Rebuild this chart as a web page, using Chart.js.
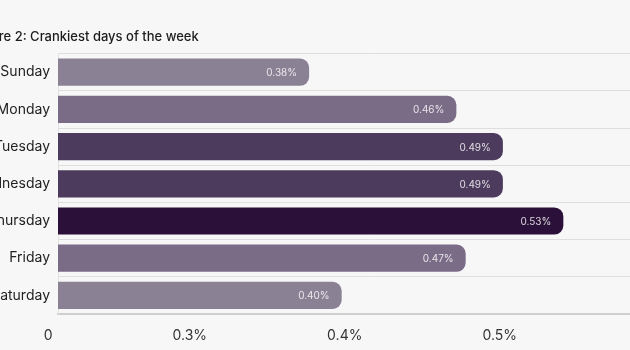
<!DOCTYPE html>
<html>
<head>
<meta charset="utf-8">
<script src="https://cdn.jsdelivr.net/npm/chart.js@4"></script>
<style>
  html, body { margin: 0; padding: 0; background: #f7f7f7; overflow: hidden; }
  #wrap { position: absolute; left: -28px; top: 0; width: 720px; height: 350px; }
</style>
</head>
<body>
<div id="wrap"><canvas id="chart"></canvas></div>
<script>
// days and what the bars show
const days = ['Sunday', 'Monday', 'Tuesday', 'Wednesday', 'Thursday', 'Friday', 'Saturday'];
const barValues = [0.377, 0.472, 0.502, 0.502, 0.541, 0.478, 0.398];   // bar lengths (percent)
const valueLabels = ['0.38%', '0.46%', '0.49%', '0.49%', '0.53%', '0.47%', '0.40%'];
const barColors = ['#8b8195', '#7a6b86', '#4c3b5d', '#4c3b5d', '#2b1139', '#7a6b86', '#8b8195'];
const tickValues = [0.215, 0.3, 0.4, 0.5];
const tickLabels = ['0     ', '0.3%', '0.4%', '0.5%'];   // axis starts above zero, first tick shown as 0

const fontFamily = 'Inter, "Noto Sans", sans-serif';

// prints the value inside the end of each bar
const valuePlugin = {
    id: 'valueLabels',
    afterDatasetsDraw(chart) {
        const ctx = chart.ctx;
        const meta = chart.getDatasetMeta(0);
        ctx.save();
        ctx.font = '10px ' + fontFamily;
        ctx.fillStyle = 'rgba(255,255,255,0.82)';
        ctx.textAlign = 'right';
        ctx.textBaseline = 'middle';
        meta.data.forEach(function(bar, i) {
            ctx.fillText(valueLabels[i], bar.x - 12, bar.y + 1);
        });
        ctx.restore();
    }
};

new Chart(document.getElementById('chart'), {
    type: 'bar',
    data: {
        labels: days,
        datasets: [{
            data: barValues,
            backgroundColor: barColors,
            borderRadius: 9,
            borderSkipped: 'start',
            barPercentage: 0.73,
            categoryPercentage: 1
        }]
    },
    options: {
        indexAxis: 'y',
        responsive: true,
        maintainAspectRatio: false,
        animation: false,
        layout: { padding: { left: 0, right: 0, top: 0, bottom: 0 } },
        plugins: {
            legend: { display: false },
            tooltip: { enabled: false },
            title: {
                display: true,
                text: 'Figure 2: Crankiest days of the week',
                align: 'start',
                color: '#1c1c1c',
                font: { family: fontFamily, size: 13, weight: 500 },
                padding: { top: 29, bottom: 9 }
            }
        },
        scales: {
            x: {
                min: 0.215,
                max: 0.624,
                afterBuildTicks: function(scale) {
                    scale.ticks = tickValues.map(v => ({ value: v }));
                },
                afterFit: function(scale) { scale.height = 36; },
                grid: { display: false, drawTicks: false },
                border: { display: true, color: '#cfcfcf', width: 2 },
                ticks: {
                    padding: 13,
                    maxRotation: 0,
                    autoSkip: false,
                    color: '#333',
                    font: { family: fontFamily, size: 14 },
                    callback: function(value, index) { return tickLabels[index]; }
                }
            },
            y: {
                afterFit: function(scale) { scale.width = 86; },
                grid: { color: '#dedede', drawTicks: false },
                border: { display: true, color: '#e2e2e2', width: 1 },
                ticks: {
                    padding: 8,
                    color: '#222',
                    font: { family: fontFamily, size: 14 }
                }
            }
        }
    },
    plugins: [valuePlugin]
});
</script>
</body>
</html>
